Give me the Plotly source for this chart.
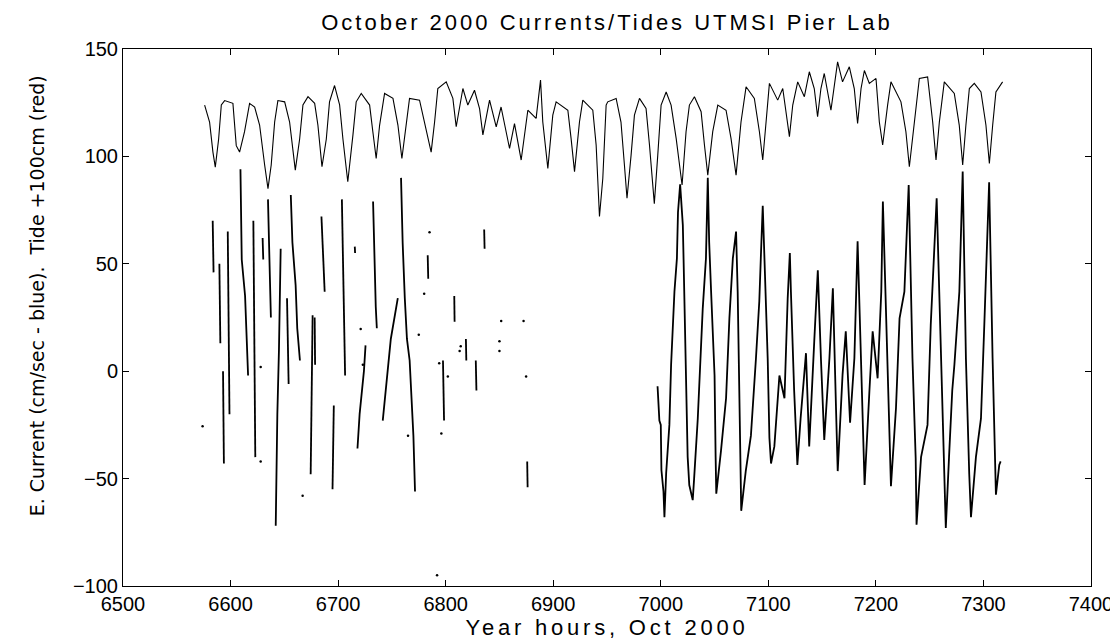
import plotly.graph_objects as go

# ── text ──────────────────────────────────────────────────────────────────────
TITLE = "October 2000 Currents/Tides UTMSI Pier Lab"
X_TITLE = "Year hours, Oct 2000"
Y_TITLE = "E. Current (cm/sec - blue).  Tide +100cm (red)"

X_TICKS = [6500, 6600, 6700, 6800, 6900, 7000, 7100, 7200, 7300, 7400]
Y_TICKS = [-100, -50, 0, 50, 100, 150]

# ── tide (+100 cm) ────────────────────────────────────────────────────────────
TIDE_HOURS = [
    6575.9, 6580.5, 6583.6, 6585.8, 6588.9, 6591.4, 6594.5, 6602.2, 6605.3, 6608.4,
    6613.0, 6617.7, 6622.4, 6627.0, 6631.7, 6634.8, 6637.8, 6641.0, 6644.0, 6650.3,
    6654.9, 6658.0, 6660.2, 6664.2, 6667.3, 6672.0, 6678.2, 6681.2, 6685.0, 6689.0,
    6692.0, 6696.7, 6701.4, 6704.5, 6709.0, 6713.8, 6716.8, 6721.5, 6729.3, 6732.3,
    6735.4, 6738.6, 6743.2, 6751.0, 6755.6, 6759.3, 6763.3, 6766.4, 6775.7, 6780.3,
    6786.5, 6789.7, 6792.7, 6800.5, 6806.7, 6809.8, 6813.0, 6816.0, 6820.6, 6826.8,
    6831.5, 6834.6, 6840.8, 6847.0, 6851.5, 6859.4, 6864.0, 6870.2, 6876.4, 6884.1,
    6888.2, 6890.3, 6895.0, 6899.6, 6902.7, 6913.6, 6916.6, 6919.8, 6924.4, 6927.5,
    6936.8, 6939.9, 6943.0, 6946.1, 6949.2, 6950.7, 6958.5, 6963.0, 6966.2, 6968.6,
    6972.4, 6975.5, 6980.2, 6986.3, 6989.5, 6994.0, 6997.2, 7000.3, 7005.0, 7009.6,
    7014.3, 7019.8, 7023.5, 7026.6, 7031.3, 7037.5, 7040.6, 7043.7, 7048.3, 7053.0,
    7060.7, 7065.3, 7070.0, 7074.6, 7079.3, 7087.0, 7091.7, 7094.8, 7097.9, 7101.0,
    7108.7, 7113.4, 7116.4, 7119.6, 7122.7, 7127.3, 7133.5, 7138.1, 7142.7, 7145.8,
    7148.9, 7152.0, 7158.2, 7164.4, 7169.0, 7175.3, 7179.9, 7183.0, 7186.2, 7189.3,
    7193.9, 7200.1, 7203.2, 7206.3, 7210.9, 7214.0, 7223.3, 7227.9, 7231.1, 7235.8,
    7240.4, 7248.1, 7252.8, 7255.9, 7259.0, 7263.6, 7272.9, 7277.5, 7280.7, 7283.7,
    7286.9, 7291.5, 7297.7, 7302.3, 7305.5, 7308.6, 7311.6, 7317.8,
]
TIDE_VALUES = [
    123.9, 116.0, 102.0, 95.0, 108.0, 124.0, 126.0, 124.7, 105.0, 102.0,
    111.5, 124.7, 123.0, 114.6, 96.0, 85.0, 96.0, 116.0, 126.0, 125.4,
    116.0, 102.0, 93.6, 108.0, 124.0, 127.8, 124.7, 114.6, 95.2, 108.0,
    125.4, 133.0, 124.0, 108.0, 88.2, 110.0, 125.4, 129.3, 123.9, 111.5,
    99.0, 114.6, 129.3, 127.0, 114.6, 99.0, 114.6, 127.0, 126.2, 116.0,
    102.0, 116.0, 131.6, 134.7, 127.0, 113.8, 123.9, 131.6, 123.9, 130.8,
    122.3, 110.0, 126.2, 113.8, 123.0, 103.7, 115.3, 98.3, 121.5, 117.7,
    135.5, 116.0, 94.4, 119.2, 125.4, 121.5, 108.4, 92.9, 116.0, 126.2,
    121.5, 105.3, 72.0, 89.8, 123.9, 125.4, 127.0, 116.0, 96.0, 80.5,
    100.6, 119.2, 127.0, 122.3, 105.3, 78.0, 100.6, 123.9, 130.0, 123.9,
    108.4, 86.7, 111.5, 123.9, 127.8, 120.8, 105.3, 91.3, 111.5, 123.9,
    121.5, 108.4, 91.3, 116.0, 132.4, 127.0, 111.5, 98.3, 116.0, 134.0,
    126.2, 131.6, 120.8, 109.2, 123.9, 134.7, 127.8, 139.4, 131.6, 118.5,
    131.6, 138.6, 121.5, 144.0, 134.7, 141.7, 131.6, 115.3, 131.6, 140.0,
    134.0, 136.3, 116.0, 105.3, 123.9, 134.7, 125.4, 111.5, 95.2, 116.0,
    136.3, 137.0, 116.0, 98.3, 116.0, 134.7, 129.3, 114.6, 96.0, 114.6,
    131.6, 134.0, 130.0, 114.6, 96.7, 114.6, 130.0, 134.7,
]

# ── east current (cm/s); None marks gaps in the record ───────────────────────
CUR_HOURS = [
    6583.4, 6583.8, 6584.2, None,
    6589.6, 6590.0, 6590.5, None,
    6593.0, 6593.4, 6593.8, None,
    6597.4, 6597.9, 6598.4, 6599.0, None,
    6609.2, 6609.8, 6610.4, 6613.5, 6615.5, 6616.3, None,
    6621.2, 6621.8, 6622.5, 6623.0, None,
    6629.8, 6630.4, None,
    6634.8, 6635.5, 6636.5, 6637.5, None,
    6642.0, 6642.6, 6643.5, 6645.0, 6646.2, 6646.6, None,
    6652.5, 6653.5, 6654.0, None,
    6656.0, 6657.5, 6660.5, 6662.0, 6664.5, None,
    6674.5, 6675.0, 6675.8, 6676.3, None,
    6678.2, 6678.6, None,
    6684.5, 6686.0, 6687.5, None,
    6694.8, 6695.3, 6696.0, None,
    6703.5, 6704.2, 6705.0, 6706.0, 6706.5, None,
    6715.5, 6715.8, None,
    6718.0, 6720.0, 6724.0, 6725.5, None,
    6732.5, 6733.5, 6735.0, 6736.0, None,
    6741.5, 6745.0, 6749.0, 6755.5, None,
    6758.5, 6760.0, 6762.0, 6764.0, 6766.5, 6768.0, 6770.0, 6771.5, None,
    6783.3, 6783.8, None,
    6797.5, 6798.0, 6798.5, None,
    6808.0, 6808.3, None,
    6818.8, 6819.2, None,
    6828.0, 6828.6, None,
    6835.8, 6836.2, None,
    6875.8, 6876.2, None,
    6997.0, 6998.7, 7000.0, 7000.6, 7002.5, 7003.4,
    7005.0, 7008.0, 7009.6, 7012.7, 7015.0, 7016.0, 7018.0,
    7020.5, 7021.2, 7022.0, 7023.5, 7025.0, 7026.5, 7029.7,
    7031.0, 7034.4, 7039.0, 7042.0, 7043.7,
    7045.0, 7046.8, 7050.0, 7051.0, 7051.6,
    7056.0, 7060.7, 7063.8, 7067.0, 7070.0,
    7071.5, 7073.0, 7074.3, 7074.8,
    7079.0, 7083.8, 7088.5, 7091.6, 7093.0, 7094.8,
    7099.4, 7101.0, 7102.5,
    7105.6, 7110.3, 7115.0, 7118.0, 7120.0,
    7121.0, 7124.0, 7127.0,
    7130.0, 7135.0, 7138.0, 7142.7, 7146.0,
    7149.0, 7152.0, 7156.8, 7160.0,
    7163.0, 7164.5, 7169.0, 7172.0, 7176.0,
    7180.0, 7183.0, 7186.0, 7189.5,
    7194.0, 7197.0, 7201.6, 7205.0, 7206.5,
    7211.0, 7214.0, 7218.7, 7222.0, 7226.5, 7230.5,
    7234.0, 7237.0, 7237.8, 7242.0, 7248.0, 7251.0, 7256.5,
    7260.5, 7263.6, 7265.0, 7268.0, 7271.0, 7273.0, 7277.6, 7280.7,
    7283.7, 7286.8, 7288.4, 7293.0, 7297.7, 7300.8, 7305.3,
    7308.5, 7310.0, 7311.6, 7314.7, 7316.0,
]
CUR_VALUES = [
    70, 57, 46, None,
    50, 30, 13, None,
    0, -20, -43, None,
    65, 40, 10, -20, None,
    94, 75, 52, 35, 10, -2, None,
    70, 40, 0, -40, None,
    62, 52, None,
    80, 60, 45, 25, None,
    -72, -50, -20, 10, 37, 57, None,
    34, 10, -6, None,
    82, 60, 40, 20, 5, None,
    -48, -20, 10, 26, None,
    25, 3, None,
    72, 55, 37, None,
    -55, -35, -16, None,
    80, 60, 30, 5, -2, None,
    58, 55, None,
    -36, -20, 0, 12, None,
    79, 52, 30, 20, None,
    -23, -5, 15, 34, None,
    90, 60, 34, 15, 5, -10, -30, -56, None,
    54, 43, None,
    5, -10, -23, None,
    35, 23, None,
    15, 5, None,
    5, -9, None,
    66, 57, None,
    -42, -54, None,
    -7, -23, -25, -46, -56, -68,
    -47.5, -25, 3, 37, 52.5, 74, 87,
    68, 52, 29, -8, -40, -53, -60,
    -50, -22, 29, 52.5, 90,
    60, 37, -2, -40, -57,
    -37, -12.6, 24.6, 52.5, 65,
    37, -9, -56, -65,
    -46.5, -30, 6, 32.6, 52.5, 77,
    6, -31, -43,
    -35, -2, -12.6, 34, 55,
    37, -9, -43.6,
    -22, 8.4, -35, 14, 47,
    4.6, -32, 6, 38.6,
    -18.6, -46.5, -1.7, 18.6, -24,
    6, 60.5, 6, -53,
    -9, 18.6, -3.3, 37, 79,
    -1.7, -53.5, -17, 24.6, 37, 86.7,
    6, -40.5, -71.5, -40, -25, 21.5, 80.5,
    6, -56, -73, -40, -9, 3, 37, 93,
    6, -48, -68, -40, -22, 21.5, 88,
    6, -32.7, -57.5, -43.6, -42,
]

# isolated single current samples
DOT_HOURS = [6574.0, 6628.0, 6628.0, 6667.0, 6721.0, 6723.0, 6765.0, 6775.0, 6780.0,
             6785.0, 6792.0, 6794.0, 6796.0, 6802.0, 6813.0, 6814.0, 6850.0, 6850.0,
             6851.6, 6872.4, 6874.8]
DOT_VALUES = [-25.6, -42.0, 2.0, -58.0, 19.7, 3.0, -30.0, 17.0, 36.0,
              64.7, -95.0, 3.7, -29.0, -2.5, 9.4, 11.6, 14.0, 9.4,
              23.4, 23.4, -2.5]

INK = "#000000"
FONT = "Liberation Sans, Arial, sans-serif"
LABEL_FONT = "DejaVu Sans, Verdana, sans-serif"


def spaced(text, px):
    # old scanned figure: title / xlabel glyphs are widely spaced
    return f'<span style="letter-spacing:{px}px">{text}</span>'


fig = go.Figure()
fig.add_trace(go.Scatter(x=TIDE_HOURS, y=TIDE_VALUES, mode="lines",
                         line=dict(color=INK, width=1.1), name="Tide"))
fig.add_trace(go.Scatter(x=CUR_HOURS, y=CUR_VALUES, mode="lines",
                         line=dict(color=INK, width=1.8), connectgaps=False,
                         name="E. Current"))
fig.add_trace(go.Scatter(x=DOT_HOURS, y=DOT_VALUES, mode="markers",
                         marker=dict(color=INK, size=2.5), name="single samples"))

axis = dict(
    showline=True, linecolor=INK, linewidth=1, mirror="allticks",
    ticks="inside", ticklen=6, tickcolor=INK, tickwidth=1,
    showgrid=False, zeroline=False,
    tickfont=dict(family=FONT, size=20, color=INK),
    automargin=False,
)

fig.update_layout(
    width=1118, height=639,
    paper_bgcolor="white", plot_bgcolor="white",
    margin=dict(l=115, r=35, t=41, b=61),
    showlegend=False,
    font=dict(family=FONT, color=INK, size=20),
    title=dict(text=spaced(TITLE, 3), x=0.5, xref="paper", y=0.978, yref="container",
               yanchor="middle", font=dict(family=FONT, size=22, color=INK)),
    xaxis=dict(**axis, range=[6500, 7400], tickvals=X_TICKS, ticklabelstandoff=0,
               title=dict(text=spaced(X_TITLE, 3.8), standoff=0,
                          font=dict(family=FONT, size=22, color=INK))),
    yaxis=dict(**axis, range=[-100, 150], tickvals=Y_TICKS),
    annotations=[dict(
        text=Y_TITLE, textangle=-90, showarrow=False,
        xref="paper", x=-0.088, xanchor="center",
        yref="paper", y=0.541, yanchor="middle",
        font=dict(family=LABEL_FONT, size=19, color=INK),
    )],
)

fig.write_html("out.html")
